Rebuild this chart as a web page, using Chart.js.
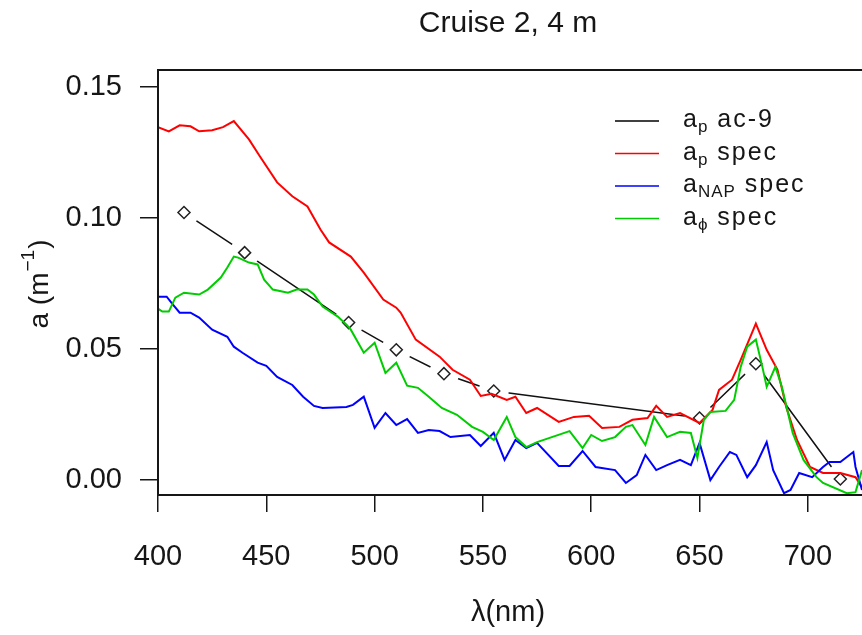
<!DOCTYPE html>
<html>
<head>
<meta charset="utf-8">
<script src="https://cdn.jsdelivr.net/npm/chart.js@4.4.0/dist/chart.umd.min.js"></script>
<style>
    html, body { margin: 0; padding: 0; background: #fff; }
    #wrap { width: 862px; height: 635px; }
</style>
</head>
<body>
<div id="wrap"><canvas id="absorption" width="862" height="635"></canvas></div>
<script>
"use strict";

/* ac-9 channels, particulate absorption */
var ac9Wavelengths = [412, 440, 488, 510, 532, 555, 650, 676, 715];
var ac9Values = [0.1021, 0.0868, 0.0601, 0.0497, 0.0406, 0.0340, 0.0237, 0.0444, 0.0004];

/* spectrophotometer, total particulate */
var apWavelengths = [400, 405, 410, 415, 419, 425, 430, 435, 442, 447, 455, 462, 469, 475, 479, 489, 495, 504, 510, 512,
    519, 530, 536, 544, 549, 554, 561, 565, 570, 575, 585, 592, 599, 605, 613, 619, 626, 630, 635, 641,
    650, 656, 659, 665, 669, 676, 681, 686, 690, 695, 701, 707, 715, 722, 725];
var apValues = [0.1347, 0.1331, 0.1354, 0.1350, 0.1331, 0.1335, 0.1347, 0.1370, 0.1300, 0.1236, 0.1136, 0.1083, 0.1044, 0.0956, 0.0907, 0.0853, 0.0792, 0.0689, 0.0658, 0.0639,
    0.0536, 0.0471, 0.0421, 0.0383, 0.0321, 0.0329, 0.0306, 0.0318, 0.0256, 0.0275, 0.0222, 0.0241, 0.0245, 0.0199, 0.0203, 0.0230, 0.0237, 0.0283, 0.0241, 0.0256,
    0.0218, 0.0268, 0.0344, 0.0383, 0.0459, 0.0597, 0.0497, 0.0421, 0.0279, 0.0153, 0.0050, 0.0027, 0.0027, 0.0011, -0.0027];

/* spectrophotometer, non-algal particles */
var napWavelengths = [400, 404, 407, 410, 415, 419, 425, 432, 435, 439, 446, 450, 455, 462, 467, 472, 476, 487, 490, 495,
    500, 505, 510, 515, 520, 525, 530, 535, 544, 549, 555, 560, 565, 570, 575, 585, 590, 596, 602, 611,
    616, 621, 625, 630, 635, 641, 646, 650, 655, 659, 664, 667, 672, 676, 681, 684, 689, 692, 696, 702,
    707, 710, 715, 721, 722, 725];
var napValues = [0.0700, 0.0700, 0.0669, 0.0639, 0.0639, 0.0620, 0.0574, 0.0547, 0.0509, 0.0486, 0.0448, 0.0436, 0.0394, 0.0363, 0.0318, 0.0283, 0.0275, 0.0279, 0.0287, 0.0318,
    0.0199, 0.0256, 0.0210, 0.0233, 0.0180, 0.0191, 0.0187, 0.0164, 0.0172, 0.0130, 0.0180, 0.0077, 0.0153, 0.0122, 0.0142, 0.0054, 0.0054, 0.0111, 0.0050, 0.0038,
    -0.0011, 0.0019, 0.0096, 0.0038, 0.0057, 0.0077, 0.0057, 0.0142, 0.0000, 0.0050, 0.0107, 0.0096, 0.0011, 0.0057, 0.0145, 0.0038, -0.0050, -0.0038, 0.0027, 0.0011,
    0.0050, 0.0069, 0.0069, 0.0107, 0.0050, -0.0038];

/* spectrophotometer, phytoplankton */
var phyWavelengths = [400, 402, 405, 408, 412, 419, 423, 429, 432, 435, 437, 442, 446, 449, 453, 460, 464, 469, 472, 476,
    483, 487, 489, 495, 500, 505, 510, 515, 520, 525, 531, 538, 545, 550, 555, 561, 565, 570, 575, 590,
    596, 600, 605, 611, 616, 619, 625, 629, 635, 641, 646, 649, 652, 655, 662, 666, 669, 672, 676, 679,
    681, 685, 688, 693, 698, 704, 707, 718, 722, 725];
var phyValues = [0.0654, 0.0643, 0.0643, 0.0696, 0.0715, 0.0708, 0.0727, 0.0773, 0.0811, 0.0853, 0.0849, 0.0830, 0.0823, 0.0765, 0.0727, 0.0715, 0.0727, 0.0727, 0.0708, 0.0662,
    0.0624, 0.0593, 0.0574, 0.0486, 0.0524, 0.0409, 0.0448, 0.0360, 0.0352, 0.0318, 0.0275, 0.0249, 0.0203, 0.0184, 0.0153, 0.0241, 0.0164, 0.0126, 0.0145, 0.0187,
    0.0122, 0.0172, 0.0149, 0.0164, 0.0203, 0.0210, 0.0134, 0.0241, 0.0164, 0.0184, 0.0180, 0.0084, 0.0230, 0.0260, 0.0264, 0.0306, 0.0432, 0.0509, 0.0536, 0.0432,
    0.0356, 0.0432, 0.0356, 0.0180, 0.0077, 0.0011, -0.0011, -0.0050, -0.0046, 0.0038];

var yTicks = [0, 0.05, 0.10, 0.15];
var xTicks = [400, 450, 500, 550, 600, 650, 700];

var FONT = "'Liberation Sans', Arial, sans-serif";
var INK = '#161616';

function pairs(xs, ys) {
    return xs.map(function (x, i) { return { x: x, y: ys[i] }; });
}

/* key entries: main letter, subscript, rest of label */
var legendRows = [
    { color: '#000000', sub: 'p', rest: ' ac-9' },
    { color: '#ff0000', sub: 'p', rest: ' spec' },
    { color: '#0000ff', sub: 'NAP', rest: ' spec' },
    { color: '#00cd00', sub: '\u03d5', rest: ' spec' }
];

var decorations = {
    id: 'decorations',
    afterDatasetsDraw: function (chart) {
        var ctx = chart.ctx, a = chart.chartArea;
        ctx.save();
        ctx.strokeStyle = INK;
        ctx.lineWidth = 2;
        ctx.beginPath();
        ctx.moveTo(a.right, a.top);
        ctx.lineTo(a.left, a.top);
        ctx.lineTo(a.left, a.bottom);
        ctx.lineTo(a.right, a.bottom);
        ctx.stroke();
        ctx.restore();
    },
    afterDraw: function (chart) {
        var ctx = chart.ctx;
        ctx.save();
        ctx.fillStyle = INK;

        // title
        ctx.textAlign = 'center';
        ctx.textBaseline = 'middle';
        ctx.font = '30px ' + FONT;
        ctx.fillText('Cruise 2, 4 m', 508, 24);

        // x axis label
        ctx.font = '29px ' + FONT;
        ctx.fillText('\u03bb(nm)', 508, 613);

        // y axis label with superscript
        ctx.save();
        ctx.translate(48, 285);
        ctx.rotate(-Math.PI / 2);
        ctx.textAlign = 'left';
        ctx.textBaseline = 'alphabetic';
        var big = '28px ' + FONT, small = '19px ' + FONT;
        ctx.font = big; var w1 = ctx.measureText('a (m').width; var w3 = ctx.measureText(')').width;
        ctx.font = small; var w2 = ctx.measureText('\u22121').width;
        var x0 = -(w1 + w2 + w3) / 2;
        ctx.font = big; ctx.fillText('a (m', x0, 0);
        ctx.font = small; ctx.fillText('\u22121', x0 + w1 + 1, -14);
        ctx.font = big; ctx.fillText(')', x0 + w1 + w2 + 2, 0);
        ctx.restore();

        // key
        ctx.textAlign = 'left';
        ctx.textBaseline = 'alphabetic';
        legendRows.forEach(function (row, i) {
            var y = 121 + i * 32.5;
            ctx.strokeStyle = row.color;
            ctx.lineWidth = 1.5;
            ctx.beginPath();
            ctx.moveTo(615, y);
            ctx.lineTo(659, y);
            ctx.stroke();

            var x = 683;
            ctx.letterSpacing = '0px';
            ctx.font = '25px ' + FONT;
            ctx.fillText('a', x, y + 6);
            x += ctx.measureText('a').width + 1;
            ctx.font = '17px ' + FONT;
            ctx.letterSpacing = '1px';
            ctx.fillText(row.sub, x, y + 11);
            x += ctx.measureText(row.sub).width;
            ctx.font = '25px ' + FONT;
            ctx.letterSpacing = '2px';
            ctx.fillText(row.rest, x, y + 6);
        });
        ctx.letterSpacing = '0px';
        ctx.restore();
    }
};

var lineStyle = { pointRadius: 0, pointHoverRadius: 0, borderWidth: 2, tension: 0, fill: false };

var chart = new Chart(document.getElementById('absorption').getContext('2d'), {
    type: 'line',
    data: {
        datasets: [
            Object.assign({ label: 'ap spec', data: pairs(apWavelengths, apValues), borderColor: '#ff0000', order: 3 }, lineStyle),
            Object.assign({ label: 'aNAP spec', data: pairs(napWavelengths, napValues), borderColor: '#0000ff', order: 2 }, lineStyle),
            Object.assign({ label: 'aphi spec', data: pairs(phyWavelengths, phyValues), borderColor: '#00cd00', order: 1 }, lineStyle),
            {
                // ac-9 line; white discs break the line around each channel
                label: 'ap ac-9',
                data: pairs(ac9Wavelengths, ac9Values),
                borderColor: '#111',
                borderWidth: 1.5,
                tension: 0,
                pointRadius: 15,
                pointHoverRadius: 15,
                pointBorderWidth: 0,
                pointBackgroundColor: '#ffffff',
                pointBorderColor: '#ffffff',
                order: 10
            },
            {
                label: 'ac-9 channels',
                data: pairs(ac9Wavelengths, ac9Values),
                showLine: false,
                pointStyle: 'rectRot',
                pointRadius: 6,
                pointHoverRadius: 6,
                pointBorderWidth: 1.5,
                pointBorderColor: '#222',
                pointBackgroundColor: '#ffffff',
                order: 9
            }
        ]
    },
    options: {
        responsive: false,
        animation: false,
        events: [],
        layout: { autoPadding: false, padding: { top: 70, left: 0, right: 0, bottom: 0 } },
        plugins: {
            legend: { display: false },
            title: { display: false },
            tooltip: { enabled: false }
        },
        scales: {
            x: {
                type: 'linear',
                min: 400,
                max: 725,
                afterBuildTicks: function (s) { s.ticks = xTicks.map(function (v) { return { value: v }; }); },
                afterFit: function (s) { s.height = 140; s.paddingLeft = 0; s.paddingRight = 0; },
                border: { display: false },
                grid: { drawOnChartArea: false, drawTicks: true, tickLength: 17, color: INK, lineWidth: 1.5 },
                ticks: { font: { family: FONT, size: 29 }, color: INK, padding: 28, maxRotation: 0 }
            },
            y: {
                type: 'linear',
                min: -0.0057,
                max: 0.1565,
                afterBuildTicks: function (s) { s.ticks = yTicks.map(function (v) { return { value: v }; }); },
                afterFit: function (s) { s.width = 158; s.paddingTop = 0; s.paddingBottom = 0; },
                border: { display: false },
                grid: { drawOnChartArea: false, drawTicks: true, tickLength: 18, color: INK, lineWidth: 1.5 },
                ticks: {
                    font: { family: FONT, size: 29 },
                    color: INK,
                    padding: 18,
                    callback: function (v) { return v.toFixed(2); }
                }
            }
        }
    },
    plugins: [decorations]
});
</script>
</body>
</html>
